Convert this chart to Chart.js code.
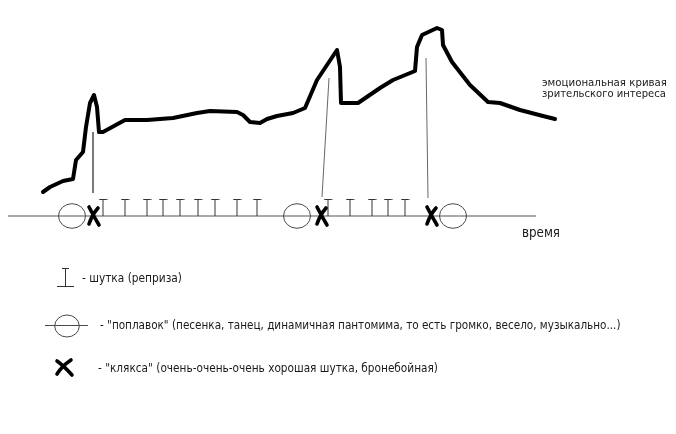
<!DOCTYPE html>
<html><head><meta charset="utf-8">
<script src="https://cdn.jsdelivr.net/npm/chart.js@4.4.1/dist/chart.umd.min.js"></script>
<style>html,body{margin:0;padding:0;background:#fff;}canvas{display:block;}</style>
</head><body>
<canvas id="c" width="676" height="434"></canvas>
<script>
// --- data (time on x, emotional interest on y; 0 = the time axis) ---
const curveTime = [43,50,63,73,76,83,86,90,94,97,99,103,125,147,173,197,210,237,243,250,260,267,277,293,305,317,337,340,341,358,380,393,415,417,422,437,442,443,452,470,488,500,520,543,555];
const curveInterest = [24,29,35,37,56,64,89,113,121,109,84,84,96,96,98,103,105,104,101,94,93,97,100,103,108,136,166,149,113,113,128,136,145,169,181,188,186,171,154,131,114,113,106,100,97];
const jokeTimes = [103,125,147,163,180,198,215,237,257,328,350,372,388,405];
const floatTimes = [72,297,453];
const blotTimes = [94,322,432];
const pointerPeakTime = [93,329,426];
const pointerPeakInterest = [84,138,158];
const pointerEventTime = [93,322,428];
const pointerEventInterest = [23,19,18];
const axisTimes = [8,536];
const curveLabel = ["эмоциональная кривая","зрительского интереса"];
const axisLabel = "время";
const legendTexts = ["- шутка (реприза)",
 "- \"поплавок\" (песенка, танец, динамичная пантомима, то есть громко, весело, музыкально...)",
 "- \"клякса\" (очень-очень-очень хорошая шутка, бронебойная)"];

// --- marker images ---
function mk(w,h,draw){const c=document.createElement('canvas');c.width=w;c.height=h;const g=c.getContext('2d');draw(g);return c;}
const tImg = mk(9,36,g=>{g.strokeStyle='#333';g.lineWidth=1;g.beginPath();g.moveTo(4.5,18);g.lineTo(4.5,1.5);g.moveTo(0.5,1.5);g.lineTo(8.5,1.5);g.stroke();});
const oImg = mk(30,28,g=>{g.strokeStyle='#4a4a4a';g.lineWidth=1;g.beginPath();g.ellipse(15,14,13.5,12.3,0,0,Math.PI*2);g.stroke();});
const xImg = mk(18,26,g=>{g.strokeStyle='#000';g.lineWidth=3.6;g.lineCap='round';g.beginPath();g.moveTo(4,4);g.quadraticCurveTo(8,12,14,22);g.moveTo(13,5);g.quadraticCurveTo(7,12,4,21);g.stroke();});

const pointerSets = pointerPeakTime.map((t,i)=>({
  type:'line', data:[{x:t,y:pointerPeakInterest[i]},{x:pointerEventTime[i],y:pointerEventInterest[i]}],
  borderColor:'#666', borderWidth:1, pointRadius:0, showLine:true, clip:false, order:5
}));

const textColor = '#1a1a1a';
const FAM = '"DejaVu Sans Condensed","DejaVu Sans",sans-serif';
function fit(ctx,text,x,y,w){
  ctx.font = '20px '+FAM;
  const s = 20*w/ctx.measureText(text).width;
  ctx.font = s.toFixed(2)+'px '+FAM;
  ctx.fillStyle=textColor; ctx.textBaseline='alphabetic'; ctx.textAlign='left';
  ctx.fillText(text,x,y);
}
const annot = {
  id:'annot',
  afterDraw(chart){
    const ctx = chart.ctx; ctx.save();
    fit(ctx,curveLabel[0],542,86,125);
    fit(ctx,curveLabel[1],542,97,124);
    fit(ctx,axisLabel,522,237,38);
    fit(ctx,legendTexts[0],82,282,100);
    fit(ctx,legendTexts[1],100,329,521);
    fit(ctx,legendTexts[2],98,372,340);
    // legend symbols
    ctx.strokeStyle='#333'; ctx.lineWidth=1;
    ctx.beginPath(); ctx.moveTo(65.5,268); ctx.lineTo(65.5,287);
    ctx.moveTo(62,268.5); ctx.lineTo(69,268.5);
    ctx.moveTo(57,286.5); ctx.lineTo(74,286.5); ctx.stroke();
    ctx.strokeStyle='#4a4a4a';
    ctx.beginPath(); ctx.moveTo(45,325.5); ctx.lineTo(88,325.5); ctx.stroke();
    ctx.beginPath(); ctx.ellipse(67,326,12.3,11,0,0,Math.PI*2); ctx.stroke();
    ctx.strokeStyle='#000'; ctx.lineWidth=3.6; ctx.lineCap='round';
    ctx.beginPath(); ctx.moveTo(57,361); ctx.quadraticCurveTo(64,366,72,375);
    ctx.moveTo(71,360); ctx.quadraticCurveTo(62,366,57,374); ctx.stroke();
    ctx.restore();
  }
};

new Chart(document.getElementById('c'),{
  type:'scatter',
  data:{datasets:[
    ...pointerSets,
    {type:'line', data:axisTimes.map(t=>({x:t,y:0})), borderColor:'#555', borderWidth:1, pointRadius:0, clip:false, order:4},
    {data:floatTimes.map(t=>({x:t,y:0})), pointStyle:oImg, pointRadius:14, clip:false, order:3},
    {data:jokeTimes.map(t=>({x:t,y:0})), pointStyle:tImg, pointRadius:9, clip:false, order:3},
    {data:blotTimes.map(t=>({x:t,y:0})), pointStyle:xImg, pointRadius:10, clip:false, order:2},
    {type:'line', data:curveTime.map((t,i)=>({x:t,y:curveInterest[i]})), borderColor:'#000', borderWidth:4, borderJoinStyle:'round', borderCapStyle:'round', pointRadius:0, tension:0, clip:false, order:1}
  ]},
  options:{
    responsive:false, animation:false, events:[],
    layout:{padding:0, autoPadding:false},
    plugins:{legend:{display:false}, tooltip:{enabled:false}},
    scales:{
      x:{type:'linear', min:0, max:676, display:false},
      y:{type:'linear', min:-218, max:216, display:false}
    }
  },
  plugins:[annot]
});
</script>
</body></html>
